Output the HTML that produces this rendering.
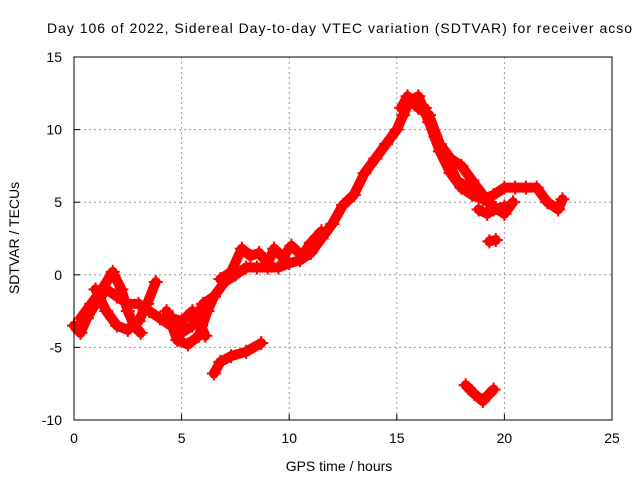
<!DOCTYPE html>
<html><head><meta charset="utf-8"><style>body{margin:0;background:#fff}svg{display:block;font-family:"Liberation Sans",sans-serif}</style></head>
<body>
<svg id="c" width="640" height="480">
<rect width="640" height="480" fill="#fff"/>
<text x="47" y="33" font-size="14" textLength="585">Day 106 of 2022, Sidereal Day-to-day VTEC variation (SDTVAR) for receiver acso</text>
<text x="339" y="471" font-size="14" text-anchor="middle">GPS time / hours</text>
<text transform="translate(19,238) rotate(-90)" font-size="14" text-anchor="middle">SDTVAR / TECUs</text>
<g id="grid"></g><g id="marks"></g>
<rect x="74" y="57" width="538" height="363" fill="none" stroke="#000"/>
</svg>
<script>
const xTicks=[0,5,10,15,20,25];
const yTicks=[-10,-5,0,5,10,15];
const trackMain=[[0,-3.5],[0.3,-4],[0.6,-3],[1,-2],[1.5,-1],[2,-1.5],[2.5,-2],[3,-2],[3.5,-2.5],[4,-3],[4.5,-3.5],[5,-4],[5.5,-3.5],[6,-2],[6.5,-1.5],[7,-0.5],[7.5,0],[8,0.5],[8.5,0.5],[9,0.5],[9.5,0.5],[10,0.8],[10.5,1],[11,1.5],[11.5,2.5],[12,3.5],[12.5,4.8],[13,5.5],[13.5,7],[14,8],[14.5,9],[15,10],[15.3,11],[15.6,12],[16,12.3],[16.5,10.5],[17,8.5],[17.5,7],[18,6],[18.5,5.5],[19,5.2],[19.5,5.5],[20,6],[20.5,6],[21,6],[21.5,6],[22,5],[22.5,4.5],[22.7,5.2]];
const trackUpper=[[15.2,11.5],[15.5,12.3],[16,11.5],[16.5,11],[17,9],[17.5,8],[18,7.5],[18.5,6.5],[19,5.5],[19.5,4.5],[20,4.7]];
const trackMid=[[16.3,11.5],[16.8,9.5],[17.3,8],[17.8,6.5],[18.3,6],[18.8,5.8]];
const trackLoopA=[[0.3,-3],[0.8,-2],[1.3,-1],[1.8,0.2],[2.2,-1],[2.5,-2.5],[2.8,-3.5],[3.1,-4]];
const trackLoopB=[[1,-1],[1.5,-2.5],[2,-3.5],[2.5,-3.8],[3,-3.2],[3.4,-2],[3.8,-0.5]];
const trackLoopC=[[4.3,-2.5],[4.8,-4.5],[5.3,-4.8],[5.8,-4.2],[6.2,-2.5],[6.5,-1.5]];
const trackLoopD=[[4.6,-3],[5,-3.2],[5.5,-2.5],[5.9,-3.5],[6.1,-4.2]];
const trackBump=[[6.8,-0.3],[7.3,0.2],[7.8,1.8],[8.2,1.3],[8.6,1.5],[9,0.8],[9.3,1.8],[9.7,1.2],[10.1,2],[10.6,1.3],[11,2.2],[11.5,3]];
const trackLow=[[6.5,-6.8],[6.8,-6],[7.3,-5.6],[8,-5.3],[8.7,-4.7]];
const trackDip=[[18.2,-7.6],[18.6,-8.2],[19,-8.7],[19.3,-8.2],[19.5,-7.9]];
const trackSmall=[[19.3,2.3],[19.6,2.4]];
const trackSide=[[18.8,4.5],[19.2,4.2],[19.6,4.6],[20,4.2],[20.4,5]];
const tracks=[trackMain,trackUpper,trackMid,trackLoopA,trackLoopB,trackLoopC,trackLoopD,trackBump,trackLow,trackDip,trackSmall,trackSide];
const X=h=>74+(h/25)*538, Y=v=>420-((v+10)/25)*363;
const NS="http://www.w3.org/2000/svg";
const grid=document.getElementById('grid'),marks=document.getElementById('marks'),svg=document.getElementById('c');
xTicks.forEach(t=>{
 if(t>0&&t<25){const l=document.createElementNS(NS,'line');l.setAttribute('x1',X(t));l.setAttribute('x2',X(t));l.setAttribute('y1',57);l.setAttribute('y2',420);l.setAttribute('stroke','#999');l.setAttribute('stroke-dasharray','2,3');
 
 grid.appendChild(l);}
 const tk=document.createElementNS(NS,'line');tk.setAttribute('x1',X(t));tk.setAttribute('x2',X(t));tk.setAttribute('y1',420);tk.setAttribute('y2',414);tk.setAttribute('stroke','#000');
 
 svg.appendChild(tk);
 const tx=document.createElementNS(NS,'text');tx.setAttribute('x',X(t));tx.setAttribute('y',443);tx.setAttribute('font-size','14');tx.setAttribute('text-anchor','middle');tx.textContent=t;
 
 svg.appendChild(tx);
});
yTicks.forEach(t=>{
 if(t>-10&&t<15){const l=document.createElementNS(NS,'line');l.setAttribute('x1',74);l.setAttribute('x2',612);l.setAttribute('y1',Y(t));l.setAttribute('y2',Y(t));l.setAttribute('stroke','#999');l.setAttribute('stroke-dasharray','2,3');
 
 grid.appendChild(l);}
 const tk=document.createElementNS(NS,'line');tk.setAttribute('x1',74);tk.setAttribute('x2',80);tk.setAttribute('y1',Y(t));tk.setAttribute('y2',Y(t));tk.setAttribute('stroke','#000');
 
 svg.appendChild(tk);
 const tx=document.createElementNS(NS,'text');tx.setAttribute('x',62);tx.setAttribute('y',Y(t)+5);tx.setAttribute('font-size','14');tx.setAttribute('text-anchor','end');tx.textContent=t;
 
 svg.appendChild(tx);
});
tracks.forEach(tr=>{
 const p=document.createElementNS(NS,'polyline');
 p.setAttribute('points',tr.map(d=>X(d[0])+','+Y(d[1])).join(' '));
 p.setAttribute('fill','none');p.setAttribute('stroke','#f00');p.setAttribute('stroke-width','10');p.setAttribute('stroke-linejoin','round');p.setAttribute('stroke-linecap','round');
 
 
 marks.appendChild(p);
 tr.forEach(d=>{const c=document.createElementNS(NS,'path');const x=X(d[0]),y=Y(d[1]);
  c.setAttribute('d',`M${x-7},${y}H${x+7}M${x},${y-7}V${y+7}`);c.setAttribute('stroke','#f00');c.setAttribute('stroke-width','2');
  
  marks.appendChild(c);});
});
</script>
</body></html>
